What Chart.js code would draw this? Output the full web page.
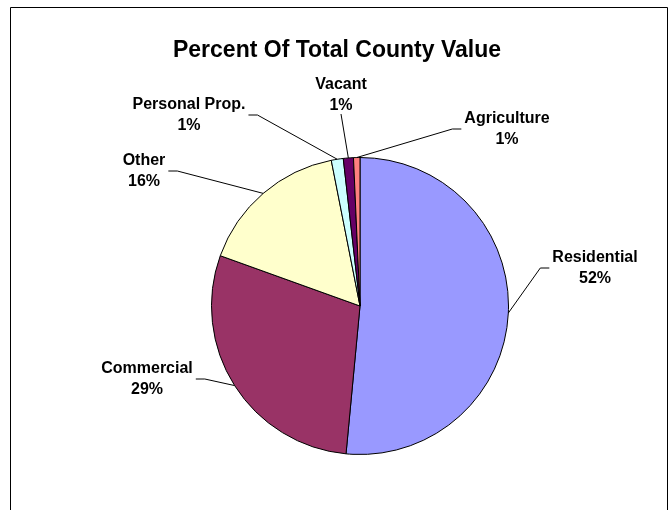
<!DOCTYPE html>
<html>
<head>
<meta charset="utf-8">
<script src="https://cdn.jsdelivr.net/npm/chart.js@4.4.0/dist/chart.umd.min.js"></script>
<style>
  html, body { margin: 0; padding: 0; background: #fff; }
  #wrap { width: 672px; height: 510px; position: relative; }
</style>
</head>
<body>
<div id="wrap"><canvas id="pie" width="672" height="510"></canvas></div>
<script>
// chart data
const chartTitle = "Percent Of Total County Value";
const categories = ["Residential", "Commercial", "Other", "Personal Prop.", "Vacant", "Agriculture"];
const shares = [51.5, 29.0, 16.4, 1.3, 1.1, 0.7];
const sliceColors = ["#9999FF", "#993366", "#FFFFCC", "#CCFFFF", "#660066", "#FF8080"];

// where each callout sits, relative to the pie centre
const labelOffsets = [[235, -38], [-213, 73], [-216, -135], [-171, -191], [-19, -211], [147, -177]];

const FONT = '"Liberation Sans", Arial, sans-serif';

const calloutPlugin = {
    id: "callouts",
    beforeDraw(chart) {
        const ctx = chart.ctx;
        ctx.save();
        // frame (open at the bottom, like the source)
        ctx.strokeStyle = "#000";
        ctx.lineWidth = 1;
        ctx.beginPath();
        ctx.moveTo(10.5, 510);
        ctx.lineTo(10.5, 7.5);
        ctx.lineTo(667.5, 7.5);
        ctx.lineTo(667.5, 510);
        ctx.stroke();
        // title
        ctx.fillStyle = "#000";
        ctx.font = "bold 23px " + FONT;
        ctx.textAlign = "center";
        ctx.textBaseline = "middle";
        ctx.fillText(chartTitle, 337, 51);
        ctx.restore();
    },
    afterDatasetsDraw(chart) {
        const ctx = chart.ctx;
        const meta = chart.getDatasetMeta(0);
        ctx.save();
        ctx.font = "bold 16px " + FONT;
        ctx.textAlign = "center";
        ctx.textBaseline = "middle";
        ctx.strokeStyle = "#000";
        ctx.fillStyle = "#000";
        ctx.lineWidth = 1;
        meta.data.forEach((arc, i) => {
            const p = arc.getProps(["x", "y", "startAngle", "endAngle", "outerRadius"], true);
            const mid = (p.startAngle + p.endAngle) / 2;
            const ax = p.x + Math.cos(mid) * p.outerRadius;
            const ay = p.y + Math.sin(mid) * p.outerRadius;
            const lx = p.x + labelOffsets[i][0];
            const ly = p.y + labelOffsets[i][1];
            const line1 = categories[i];
            const line2 = Math.round(shares[i]) + "%";
            const w = Math.max(ctx.measureText(line1).width, ctx.measureText(line2).width);

            // leader line
            ctx.beginPath();
            if (Math.abs(ax - lx) < w / 2) {
                ctx.moveTo(lx, ly + 19);
                ctx.lineTo(ax, ay);
            } else if (lx > ax) {
                const sx = lx - w / 2 - 3;
                ctx.moveTo(sx, ly);
                ctx.lineTo(sx - 9, ly);
                ctx.lineTo(ax, ay);
            } else {
                const sx = lx + w / 2 + 3;
                ctx.moveTo(sx, ly);
                ctx.lineTo(sx + 9, ly);
                ctx.lineTo(ax, ay);
            }
            ctx.stroke();

            ctx.fillText(line1, lx, ly - 10.5);
            ctx.fillText(line2, lx, ly + 10.5);
        });
        ctx.restore();
    }
};

new Chart(document.getElementById("pie"), {
    type: "pie",
    data: {
        labels: categories,
        datasets: [{
            data: shares,
            backgroundColor: sliceColors,
            borderColor: "#000",
            borderWidth: 1
        }]
    },
    options: {
        responsive: false,
        animation: false,
        layout: {
            padding: { left: 211, right: 163, top: 157, bottom: 55 }
        },
        plugins: {
            legend: { display: false },
            tooltip: { enabled: false },
            title: { display: false }
        }
    },
    plugins: [calloutPlugin]
});
</script>
</body>
</html>
